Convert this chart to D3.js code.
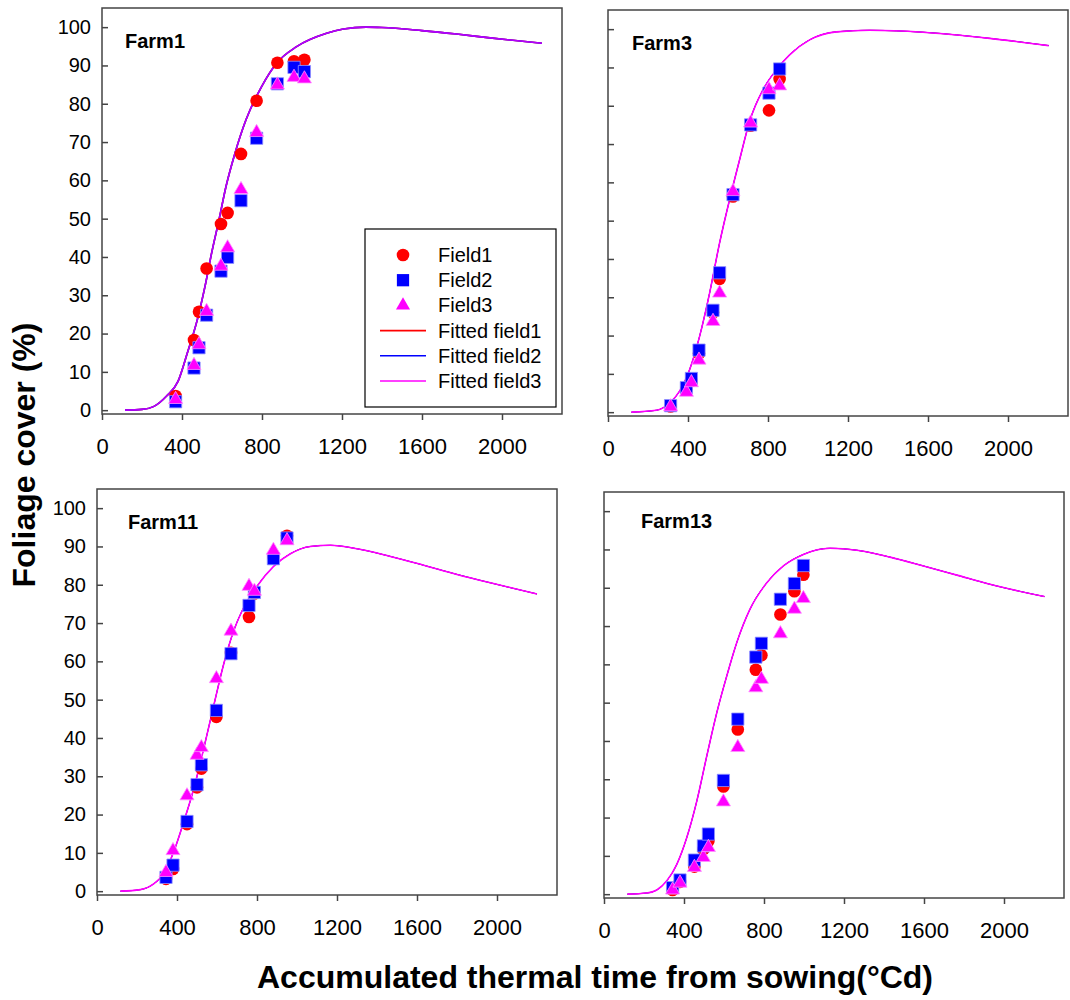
<!DOCTYPE html>
<html>
<head>
<meta charset="utf-8">
<script src="https://cdn.jsdelivr.net/npm/d3@7"></script>
<style>
  body { margin: 0; background: #fff; }
  text { font-family: Arial, "Liberation Sans", sans-serif; }
</style>
</head>
<body>
<svg id="chart" width="1070" height="1000"></svg>
<script>
// ---- axis ticks ----
const xTickValues = [0, 400, 800, 1200, 1600, 2000];
const yTickValues = [0, 10, 20, 30, 40, 50, 60, 70, 80, 90, 100];

// ---- series names ----
const fieldNames = ["Field1", "Field2", "Field3"];
const fittedNames = ["Fitted field1", "Fitted field2", "Fitted field3"];

// ---- Farm1 observations (thermal time, foliage cover %) ----
const farm1Time   = [368, 460, 485, 523, 595, 628, 695, 773, 877, 960, 1012];
const farm1Field1 = [3.7, 18.3, 25.7, 37.0, 48.6, 51.5, 66.9, 80.8, 90.7, 91.1, 91.5];
const farm1Field2 = [2.2, 11.0, 16.3, 24.8, 36.3, 39.9, 54.7, 71.0, 85.2, 89.5, 88.4];
const farm1Field3 = [2.8, 11.7, 17.1, 25.8, 37.6, 42.4, 57.6, 72.5, 84.9, 86.9, 86.5];
// Farm1 fitted curve
const farm1FitTime  = [115, 200, 260, 323, 380, 427, 477, 515, 548, 585, 620, 665, 720, 798, 873, 973, 1123, 1207, 1320, 1400, 1600, 1773, 1940, 2200];
const farm1FitCover = [0, 0.2, 1.0, 3.7, 7.5, 15.0, 23.7, 32.3, 41.0, 49.7, 58.4, 67.1, 75.8, 84.5, 90.6, 94.9, 98.4, 99.5, 100, 99.9, 99.1, 98.2, 97.2, 95.8];

// ---- Farm3 ----
const farm3Time   = [313, 392, 417, 455, 525, 558, 625, 713, 805, 858];
const farm3Field1 = [1.5, 6.0, 8.2, 15.3, 26.0, 34.8, 56.3, 74.8, 78.8, 87.0];
const farm3Field2 = [1.7, 6.4, 8.8, 16.2, 26.6, 36.4, 56.8, 75.0, 83.3, 89.6];
const farm3Field3 = [1.4, 5.2, 7.7, 13.6, 23.7, 31.1, 57.6, 75.5, 84.2, 85.2];
const farm3FitTime  = [117, 242, 308, 358, 408, 458, 508, 558, 608, 658, 708, 775, 842, 908, 1008, 1142, 1308, 1575, 1908, 2203];
const farm3FitCover = [0, 0.5, 2.4, 5.5, 11.1, 19.8, 31.1, 44.2, 55.5, 65.9, 75.9, 84.2, 89.4, 93.3, 97.2, 99.3, 99.7, 99.2, 97.6, 95.7];

// ---- Farm11 ----
const farm11Time   = [345, 380, 450, 500, 522, 597, 670, 760, 787, 882, 950];
const farm11Field1 = [3.2, 5.8, 17.5, 27.1, 32.0, 45.5, 62.2, 71.6, 77.7, 87.4, 92.8];
const farm11Field2 = [3.6, 6.8, 18.2, 27.8, 33.0, 47.2, 62.0, 74.6, 78.0, 86.8, 92.2];
const farm11Field3 = [4.9, 10.6, 24.9, 35.5, 37.5, 55.5, 67.9, 79.6, 78.3, 89.0, 91.5];
const farm11FitTime  = [117, 217, 283, 333, 383, 433, 483, 533, 583, 633, 683, 733, 800, 883, 967, 1067, 1167, 1300, 1467, 1633, 1800, 1967, 2200];
const farm11FitCover = [0, 0.4, 1.9, 4.5, 10.2, 18.0, 26.6, 37.1, 48.3, 59.2, 67.9, 74.0, 79.6, 84.8, 88.1, 90.0, 90.3, 89.4, 87.4, 85.1, 82.7, 80.5, 77.6];

// ---- Farm13 ----
const farm13Time   = [343, 380, 452, 497, 522, 597, 669, 759, 787, 882, 952, 997];
const farm13Field1 = [1.1, 3.2, 7.2, 11.7, 13.9, 28.1, 43.0, 58.6, 62.4, 73.0, 79.1, 83.4];
const farm13Field2 = [1.7, 3.7, 8.9, 12.6, 15.7, 29.7, 45.7, 61.9, 65.5, 77.0, 81.1, 85.8];
const farm13Field3 = [1.1, 2.9, 7.0, 9.6, 12.2, 24.1, 38.3, 53.9, 56.1, 68.0, 74.4, 77.2];
const farm13FitTime  = [117, 214, 264, 314, 364, 414, 464, 514, 564, 614, 664, 730, 814, 897, 997, 1130, 1264, 1430, 1597, 1764, 1930, 2202];
const farm13FitCover = [0, 0.3, 1.1, 3.5, 7.8, 14.8, 24.3, 36.1, 47.4, 57.0, 65.7, 74.4, 81.3, 85.7, 88.7, 90.3, 89.8, 88.0, 85.7, 83.3, 80.9, 77.7];

// ---- drawing ----
const svg = d3.select("#chart");
const PW = 460, PH = 406;

const colors = ["#ff0000", "#0000ff", "#ff00ff"];
const symbols = [d3.symbolCircle, d3.symbolSquare, d3.symbolTriangle];
const symbolSizes = [125, 150, 86];

const farms = [
  { name: "Farm1",  time: farm1Time,  fields: [farm1Field1, farm1Field2, farm1Field3],
    fitTime: farm1FitTime,  fitCover: farm1FitCover,
    left: 102, top: 8,   yLabels: true,  titleDx: 23, titleDy: 40, legend: true, blend: true },
  { name: "Farm3",  time: farm3Time,  fields: [farm3Field1, farm3Field2, farm3Field3],
    fitTime: farm3FitTime,  fitCover: farm3FitCover,
    left: 608, top: 10,  yLabels: false, titleDx: 24, titleDy: 40 },
  { name: "Farm11", time: farm11Time, fields: [farm11Field1, farm11Field2, farm11Field3],
    fitTime: farm11FitTime, fitCover: farm11FitCover,
    left: 97,  top: 489, yLabels: true,  titleDx: 31, titleDy: 40 },
  { name: "Farm13", time: farm13Time, fields: [farm13Field1, farm13Field2, farm13Field3],
    fitTime: farm13FitTime, fitCover: farm13FitCover,
    left: 604, top: 492, yLabels: false, titleDx: 37, titleDy: 36 }
];

const x = d3.scaleLinear().domain([0, 2300]).range([0, PW]);
const y = d3.scaleLinear().domain([-1, 105]).range([PH, 0]);
const line = d3.line()
  .x(d => x(d[0]))
  .y(d => y(d[1]))
  .curve(d3.curveMonotoneX);

farms.forEach(f => {
  const g = svg.append("g").attr("transform", `translate(${f.left},${f.top})`);

  // x axis (outward ticks)
  const xa = g.append("g")
    .attr("transform", `translate(0,${PH})`)
    .call(d3.axisBottom(x).tickValues(xTickValues).tickFormat(d3.format("d"))
      .tickSize(6).tickSizeOuter(0).tickPadding(18));
  xa.select(".domain").remove();
  xa.selectAll("line").attr("stroke", "#444").attr("stroke-width", 1.5);
  xa.selectAll("text").attr("font-size", 22).attr("fill", "#000")
    .attr("font-family", "Arial, 'Liberation Sans', sans-serif");

  // y axis (inward ticks)
  const ya = g.append("g")
    .call(d3.axisLeft(y).tickValues(yTickValues).tickSize(-6).tickSizeOuter(0).tickPadding(11)
      .tickFormat(f.yLabels ? d3.format("d") : () => ""));
  ya.select(".domain").remove();
  ya.selectAll("line").attr("stroke", "#444").attr("stroke-width", 1.5);
  ya.selectAll("text").attr("font-size", 20).attr("fill", "#000")
    .attr("font-family", "Arial, 'Liberation Sans', sans-serif");

  // frame
  g.append("rect").attr("x", 0).attr("y", 0).attr("width", PW).attr("height", PH)
    .attr("fill", "none").attr("stroke", "#444").attr("stroke-width", 1.5);

  // fitted curves: field1, field2, field3 (field3 drawn on top)
  const fitPts = f.fitTime.map((t, i) => [t, f.fitCover[i]]);
  colors.forEach((c, i) => {
    g.append("path").datum(fitPts)
      .attr("d", line)
      .attr("fill", "none")
      .attr("stroke", c)
      .attr("stroke-width", (i === 2 || f.blend) ? 1.6 : 1.0)
      .attr("stroke-opacity", (f.blend && i === 2) ? 0.7 : 1);
  });

  // observed points
  f.fields.forEach((vals, i) => {
    g.append("g").selectAll("path")
      .data(vals.map((v, j) => [f.time[j], v]))
      .join("path")
      .attr("transform", d => `translate(${x(d[0])},${y(d[1])})`)
      .attr("d", d3.symbol().type(symbols[i]).size(symbolSizes[i]))
      .attr("fill", colors[i])
      .attr("stroke", i === 1 ? "#8f8fff" : (i === 2 ? "#ff8fff" : "none"))
      .attr("stroke-width", 0.8);
  });

  // farm title
  g.append("text")
    .attr("x", f.titleDx).attr("y", f.titleDy)
    .attr("font-size", 20).attr("font-weight", "bold")
    .text(f.name);

  // legend
  if (f.legend) {
    const lg = g.append("g").attr("transform", "translate(263,221)");
    lg.append("rect").attr("width", 191).attr("height", 178)
      .attr("fill", "#fff").attr("stroke", "#000").attr("stroke-width", 1.2);
    const rowY = i => 26 + i * 25.2;
    fieldNames.forEach((n, i) => {
      lg.append("path")
        .attr("transform", `translate(38,${rowY(i)})`)
        .attr("d", d3.symbol().type(symbols[i]).size(symbolSizes[i]))
        .attr("fill", colors[i]);
      lg.append("text").attr("x", 73).attr("y", rowY(i)).attr("dy", "0.35em")
        .attr("font-size", 20).text(n);
    });
    fittedNames.forEach((n, i) => {
      const ry = rowY(i + 3);
      lg.append("line").attr("x1", 15).attr("x2", 61).attr("y1", ry).attr("y2", ry)
        .attr("stroke", colors[i]).attr("stroke-width", 1.6);
      lg.append("text").attr("x", 73).attr("y", ry).attr("dy", "0.35em")
        .attr("font-size", 20).text(n);
    });
  }
});

// axis titles
svg.append("text")
  .attr("x", 595).attr("y", 988)
  .attr("text-anchor", "middle")
  .attr("font-size", 32).attr("font-weight", "bold")
  .text("Accumulated thermal time from sowing(°Cd)");

svg.append("text")
  .attr("transform", "translate(35,455) rotate(-90)")
  .attr("text-anchor", "middle")
  .attr("font-size", 32).attr("font-weight", "bold")
  .text("Foliage cover (%)");
</script>
</body>
</html>
